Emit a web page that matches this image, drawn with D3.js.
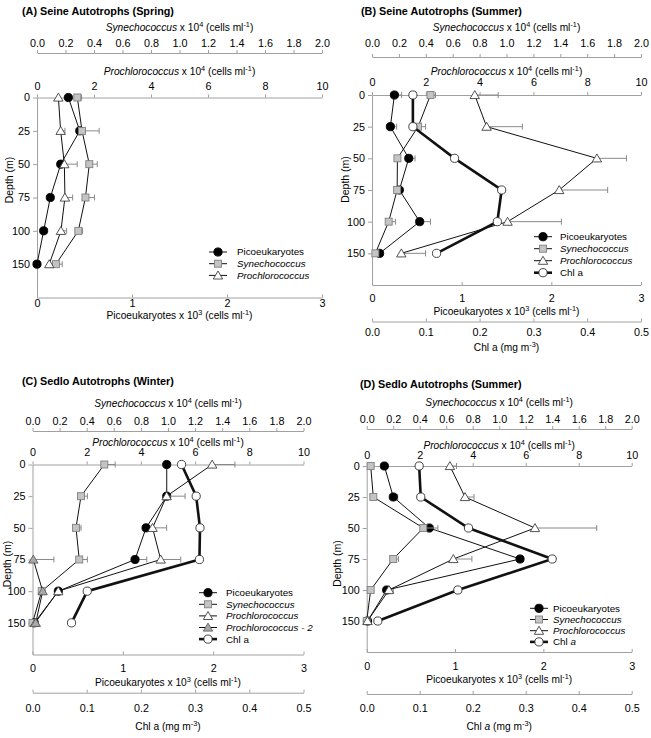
<!DOCTYPE html>
<html><head><meta charset="utf-8">
<script src="https://cdn.jsdelivr.net/npm/d3@7"></script>
<style>body{margin:0;background:#fff} svg{display:block} text{font-family:"Liberation Sans",Arial,sans-serif}</style>
</head><body><svg id="c" width="651" height="738"></svg>
<script>
// ---------- data ----------
const depths = ["0","25","50","75","100","150"];
const synTicks = [0,0.2,0.4,0.6,0.8,1.0,1.2,1.4,1.6,1.8,2.0];
const proTicks = [0,2,4,6,8,10];
const picoTicks = [0,1,2,3];
const chlTicks = [0,0.1,0.2,0.3,0.4,0.5];

// (A) Seine Spring
const A_pico = [0.33,0.45,0.25,0.14,0.07,0.0];
const A_picoErr = [0,0,0,0,0,0];
const A_syn = [0.283,0.316,0.367,0.34,0.29,0.133];
const A_synErr = [0.03,0.12,0.056,0.063,0.03,0.044];
const A_pro = [0.75,0.83,0.96,0.98,0.84,0.43];
const A_proErr = [0,0.15,0.45,0.27,0.2,0];

// (B) Seine Summer
const B_pico = [0.25,0.205,0.41,0.305,0.532,0.085];
const B_picoErr = [0.08,0.07,0.07,0,0.12,0.03];
const B_syn = [0.435,0.343,0.189,0.187,0.124,0.025];
const B_synErr = [0.037,0.055,0,0,0.05,0];
const B_pro = [3.82,4.26,8.36,6.96,5.04,1.09];
const B_proErr = [0.87,1.33,1.1,1.8,2.0,0.9];
const B_chl = [0.076,0.076,0.1535,0.241,0.233,0.12];

// (C) Sedlo Winter
const C_pico = [1.486,1.486,1.257,1.135,0.286,0.02];
const C_picoErr = [0,0,0,0.13,0,0];
const C_syn = [0.53,0.358,0.321,0.345,0.068,0];
const C_synErr = [0.08,0.047,0.037,0.06,0,0];
const C_pro = [6.63,4.95,4.43,4.73,0.95,0.1];
const C_proErr = [0.84,0.68,0.52,0.74,0,0];
const C_pro2 = [null,null,null,0.03,0.376,0.12];
const C_pro2Err = [0,0,0,0.76,0,0];
const C_chl = [0.275,0.302,0.309,0.308,0.101,0.072];

// (D) Sedlo Summer
const D_pico = [0.2,0.301,0.709,1.736,0.226,0.01];
const D_picoErr = [0,0.05,0,0,0.075,0];
const D_syn = [0.03,0.05,0.427,0.2,0.03,0];
const D_synErr = [0.02,0,0.11,0.04,0,0];
const D_pro = [3.14,3.71,6.35,3.27,0.84,0.03];
const D_proErr = [0.25,0.34,2.33,0.7,0,0];
const D_chl = [0.099,0.102,0.192,0.35,0.172,0.021];

// ---------- styles ----------
const axisCol = "#a0a0a0";
const errCol = "#8a8a8a";
const TICK_FS = 10.8;
const styles = {
  pico: {shape:"circle", fill:"#000", stroke:"#000", lw:1},
  syn:  {shape:"square", fill:"#c4c4c4", stroke:"#808080", lw:1},
  pro:  {shape:"tri", fill:"#fff", stroke:"#404040", lw:1},
  pro2: {shape:"tri", fill:"#a8a8a8", stroke:"#606060", lw:1},
  chl:  {shape:"circle", fill:"#fff", stroke:"#303030", lw:2.6}
};
const legendText = {
  pico: [{t:"Picoeukaryotes"}],
  syn: [{t:"Synechococcus", i:1}],
  pro: [{t:"Prochlorococcus", i:1}],
  pro2: [{t:"Prochlorococcus - 2", i:1}],
  chl: [{t:"Chl a"}],
  chlI: [{t:"Chl "},{t:"a", i:1}]
};

const svg = d3.select("#c");

function rich(g, x, y, parts, size, anchor, bold) {
  const t = g.append("text").attr("x", x).attr("y", y).attr("font-size", size)
    .attr("text-anchor", anchor || "start").attr("fill", "#000");
  if (bold) t.attr("font-weight", "bold");
  parts.forEach(p => {
    const s = t.append("tspan").text(p.t);
    if (p.i) s.attr("font-style", "italic");
    if (p.sup) { s.attr("font-size", size * 0.72).attr("dy", -size * 0.38); }
    if (p.after) { s.attr("dy", size * 0.38); }
  });
  return t;
}
function unitParts(name, italic, exp) {
  return [{t:name, i:italic}, {t:" x 10"}, {t:exp, sup:1}, {t:" (cells ml", after:1}, {t:"-1", sup:1}, {t:")", after:1}];
}

function marker(g, shape, x, y, st) {
  let el;
  if (shape === "circle") {
    el = g.append("circle").attr("cx", x).attr("cy", y).attr("r", 4.1);
  } else if (shape === "square") {
    el = g.append("rect").attr("x", x - 3.5).attr("y", y - 3.5).attr("width", 7).attr("height", 7);
  } else {
    el = g.append("path").attr("d", `M${x},${y-4.4}L${x+4.7},${y+3.6}L${x-4.7},${y+3.6}Z`);
  }
  el.attr("fill", st.fill).attr("stroke", st.stroke).attr("stroke-width", 0.9);
}

function styleAxis(g) {
  g.attr("font-family", null).attr("font-size", TICK_FS);
  g.select(".domain").attr("stroke", axisCol);
  g.selectAll(".tick line").attr("stroke", axisCol);
  g.selectAll(".tick text").attr("fill", "#000");
}

function drawPanel(P) {
  const g = svg.append("g");
  const xs = {
    syn: d3.scaleLinear().domain([0, 2]).range([P.x0, P.x1]),
    pro: d3.scaleLinear().domain([0, 10]).range([P.x0, P.x1]),
    pico: d3.scaleLinear().domain([0, 3]).range([P.x0, P.x1]),
    chl: d3.scaleLinear().domain([0, 0.5]).range([P.x0, P.x1])
  };
  xs.pro2 = xs.pro;
  const y = d3.scalePoint().domain([...depths, "end"]).range([P.top, P.bottom]);

  rich(g, P.titleX, P.titleY, [{t:P.title}], 10.8, "start", true);
  const cx = (P.x0 + P.x1) / 2;

  rich(g, cx, P.synLabelY + 3.6, unitParts("Synechococcus", 1, "4"), 10.2, "middle");
  const gs = g.append("g").attr("transform", `translate(0,${P.synAxisY})`)
    .call(d3.axisBottom(xs.syn).tickValues(synTicks).tickFormat(d3.format(".1f")).tickSize(-3).tickSizeOuter(0));
  styleAxis(gs);
  gs.selectAll(".tick text").attr("y", P.synTickY - P.synAxisY).attr("dy", "0.35em");

  rich(g, cx, P.proLabelY + 3.6, unitParts("Prochlorococcus", 1, "4"), 10.2, "middle");
  const gp = g.append("g").attr("transform", `translate(0,${P.top})`)
    .call(d3.axisTop(xs.pro).tickValues(proTicks).tickFormat(d3.format("d")).tickSize(3).tickSizeOuter(0));
  styleAxis(gp);
  gp.selectAll(".tick text").attr("y", P.proTickY - P.top).attr("dy", "0.35em");

  const gy = g.append("g").attr("transform", `translate(${P.x0},0)`)
    .call(d3.axisLeft(y).tickValues(depths).tickSize(4).tickSizeOuter(0).tickPadding(3));
  styleAxis(gy);
  g.append("text").attr("transform", `translate(${P.depthLabelX},${P.depthLabelY}) rotate(-90)`)
    .attr("text-anchor", "middle").attr("dy", "0.35em").attr("font-size", 10.5).text("Depth (m)");

  const gb = g.append("g").attr("transform", `translate(0,${P.bottom})`)
    .call(d3.axisBottom(xs.pico).tickValues(picoTicks).tickFormat(d3.format("d")).tickSize(-3).tickSizeOuter(0));
  styleAxis(gb);
  gb.selectAll(".tick text").attr("y", P.picoTickY - P.bottom).attr("dy", "0.35em");
  rich(g, cx, P.picoTitleY + 3.6, unitParts("Picoeukaryotes", 0, "3"), 10.2, "middle");

  if (P.chlAxisY) {
    const gc = g.append("g").attr("transform", `translate(0,${P.chlAxisY})`)
      .call(d3.axisBottom(xs.chl).tickValues(chlTicks).tickFormat(d3.format(".1f")).tickSize(-3).tickSizeOuter(0));
    styleAxis(gc);
    gc.selectAll(".tick text").attr("y", P.chlTickY - P.chlAxisY).attr("dy", "0.35em");
    const chlParts = P.chlItalic
      ? [{t:"Chl "},{t:"a", i:1},{t:" (mg m"},{t:"-3", sup:1},{t:")", after:1}]
      : [{t:"Chl a (mg m"},{t:"-3", sup:1},{t:")", after:1}];
    rich(g, cx, P.chlTitleY + 3.6, chlParts, 10.2, "middle");
  }

  P.series.forEach(s => {
    const st = styles[s.key];
    const sc = xs[s.key];
    const pts = s.vals.map((v, i) => ({v, e: s.errs ? s.errs[i] : 0, d: depths[i]})).filter(p => p.v !== null);
    pts.filter(p => p.e > 0).forEach(p => {
      const x1 = sc(p.v), x2 = sc(p.v + p.e), yy = y(p.d);
      g.append("line").attr("x1", x1).attr("x2", x2).attr("y1", yy).attr("y2", yy).attr("stroke", errCol).attr("stroke-width", 1);
      g.append("line").attr("x1", x2).attr("x2", x2).attr("y1", yy - 3).attr("y2", yy + 3).attr("stroke", errCol).attr("stroke-width", 1);
    });
    g.append("path").datum(pts)
      .attr("d", d3.line().x(p => sc(p.v)).y(p => y(p.d)))
      .attr("fill", "none").attr("stroke", "#111").attr("stroke-width", st.lw);
    pts.forEach(p => marker(g, st.shape, sc(p.v), y(p.d), st));
  });

  P.legend.forEach((k, i) => {
    const st = styles[k === "chlI" ? "chl" : k];
    const ly = P.legY + i * P.legStep;
    g.append("line").attr("x1", P.legMX - 9).attr("x2", P.legMX + 9).attr("y1", ly).attr("y2", ly)
      .attr("stroke", "#111").attr("stroke-width", st.lw);
    marker(g, st.shape, P.legMX, ly, st);
    rich(g, P.legTX, ly + 3.4, legendText[k], 9.8, "start");
  });
}

drawPanel({
  title: "(A) Seine Autotrophs (Spring)", titleX: 22, titleY: 15,
  x0: 37, x1: 322, top: 97.5, bottom: 297.5,
  synLabelY: 27, synTickY: 43, synAxisY: 53, proLabelY: 71, proTickY: 86,
  depthLabelX: 9, depthLabelY: 180, picoTickY: 303.5, picoTitleY: 315,
  legMX: 218, legTX: 237, legY: 252, legStep: 11.7, legend: ["pico","syn","pro"],
  series: [
    {key:"pico", vals:A_pico, errs:A_picoErr},
    {key:"syn", vals:A_syn, errs:A_synErr},
    {key:"pro", vals:A_pro, errs:A_proErr}
  ]
});
drawPanel({
  title: "(B) Seine Autotrophs (Summer)", titleX: 361, titleY: 15,
  x0: 372, x1: 641, top: 95, bottom: 285,
  synLabelY: 27, synTickY: 43, synAxisY: 57, proLabelY: 71.5, proTickY: 82,
  depthLabelX: 345, depthLabelY: 179.5, picoTickY: 298, picoTitleY: 311.5,
  chlAxisY: 321.5, chlTickY: 332.5, chlTitleY: 347,
  legMX: 543, legTX: 560, legY: 236.7, legStep: 12, legend: ["pico","syn","pro","chl"],
  series: [
    {key:"pico", vals:B_pico, errs:B_picoErr},
    {key:"syn", vals:B_syn, errs:B_synErr},
    {key:"pro", vals:B_pro, errs:B_proErr},
    {key:"chl", vals:B_chl, errs:null}
  ]
});
drawPanel({
  title: "(C) Sedlo Autotrophs (Winter)", titleX: 22, titleY: 385,
  x0: 32.5, x1: 303.5, top: 464.5, bottom: 654.5,
  synLabelY: 403, synTickY: 421, synAxisY: 431, proLabelY: 442, proTickY: 452.5,
  depthLabelX: 7, depthLabelY: 564, picoTickY: 668.3, picoTitleY: 682.7,
  chlAxisY: 692.7, chlTickY: 708.3, chlTitleY: 726,
  legMX: 208, legTX: 226, legY: 592.7, legStep: 11.6, legend: ["pico","syn","pro","pro2","chl"],
  series: [
    {key:"pico", vals:C_pico, errs:C_picoErr},
    {key:"syn", vals:C_syn, errs:C_synErr},
    {key:"pro", vals:C_pro, errs:C_proErr},
    {key:"pro2", vals:C_pro2, errs:C_pro2Err},
    {key:"chl", vals:C_chl, errs:null}
  ]
});
drawPanel({
  title: "(D) Sedlo Autotrophs (Summer)", titleX: 360, titleY: 388,
  x0: 366.7, x1: 631.7, top: 466, bottom: 652,
  synLabelY: 402.3, synTickY: 419, synAxisY: 429, proLabelY: 445, proTickY: 455.7,
  depthLabelX: 337, depthLabelY: 563.5, picoTickY: 666.7, picoTitleY: 679.3,
  chlAxisY: 694, chlTickY: 708.3, chlTitleY: 726, chlItalic: true,
  legMX: 539, legTX: 553, legY: 608.3, legStep: 11.2, legend: ["pico","syn","pro","chlI"],
  series: [
    {key:"pico", vals:D_pico, errs:D_picoErr},
    {key:"syn", vals:D_syn, errs:D_synErr},
    {key:"pro", vals:D_pro, errs:D_proErr},
    {key:"chl", vals:D_chl, errs:null}
  ]
});
</script>
</body></html>
